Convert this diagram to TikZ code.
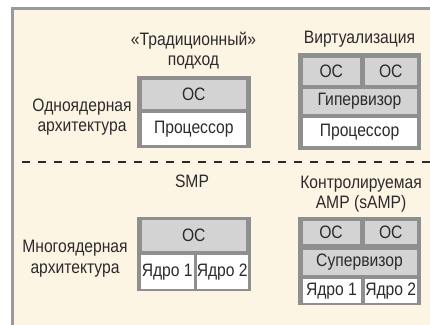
\documentclass[tikz,border=0pt]{standalone}
\usepackage{fontspec}
\setmainfont{Liberation Sans}[FakeStretch=0.87]

\definecolor{cream}{HTML}{FDF5E4}
\definecolor{framegray}{HTML}{9A9A9A}
\definecolor{blockgray}{HTML}{8F8F8F}
\definecolor{cellgray}{HTML}{D3D3D3}
\definecolor{ink}{HTML}{2B2B2B}

\tikzset{
  lbl/.style={inner sep=0pt, align=center, text=ink,
    font=\fontsize{18}{20.5}\selectfont},
  cell/.style={inner sep=0pt, fill=cellgray, text=ink,
    font=\fontsize{18}{20.5}\selectfont},
  hwcell/.style={cell, fill=white}
}

\begin{document}
\begin{tikzpicture}[x=1pt, y=-1pt]
  \useasboundingbox (0,0) rectangle (430,324);

  % Рамка
  \fill[cream] (12.5,8.5) rectangle (440,330);
  \draw[framegray, line width=3pt] (12.5,330) |- (440,8.5);

  % Разделитель
  \draw[ink, line width=2pt, dash pattern=on 8pt off 8pt] (22,161.5) -- (430,161.5);

  % Подписи
  \node[lbl] (single) at (82,117) {Одноядерная\\архитектура};
  \node[lbl] (multi) at (75,258.5) {Многоядерная\\архитектура};
  \node[lbl] (trad) at (193.5,50.5) {«Традиционный»\\подход};
  \node[lbl] (virt) at (359.5,39.5) {Виртуализация};
  \node[lbl] (smp) at (192,181) {SMP};
  \node[lbl] (samp) at (361,194) {Контролируемая\\AMP (sAMP)};

  % «Традиционный» подход
  \fill[blockgray] (137,75.5) rectangle (250.5,148);
  \node[cell, minimum width=104.5pt, minimum height=28.5pt] (tradOS) at (193.75,94.25) {ОС};
  \node[hwcell, minimum width=104.5pt, minimum height=31.5pt] (tradCPU) at (193.75,128.75) {Процессор};

  % Виртуализация
  \fill[blockgray] (298,53) rectangle (421,149.5);
  \node[cell, minimum width=57.5pt, minimum height=27.5pt] (virtOSa) at (331.25,71.25) {ОС};
  \node[cell, minimum width=51.5pt, minimum height=27.5pt] (virtOSb) at (390.75,71.25) {ОС};
  \node[cell, minimum width=114pt, minimum height=25pt] (virtHyp) at (359.5,101.5) {Гипервизор};
  \node[hwcell, minimum width=114pt, minimum height=27.5pt] (virtCPU) at (359.5,131.75) {Процессор};

  % SMP
  \fill[blockgray] (137,216.5) rectangle (250.5,291);
  \node[cell, minimum width=104.5pt, minimum height=30.5pt] (smpOS) at (193.75,235.25) {ОС};
  \node[hwcell, minimum width=52.5pt, minimum height=33.5pt] (smpCoreA) at (167.25,271.75) {Ядро 1};
  \node[hwcell, minimum width=47.5pt, minimum height=33.5pt] (smpCoreB) at (222.25,271.75) {Ядро 2};

  % sAMP
  \fill[blockgray] (298,216.5) rectangle (421,305);
  \node[cell, minimum width=57pt, minimum height=23.5pt] (sampOSa) at (331,232.25) {ОС};
  \node[cell, minimum width=51.5pt, minimum height=23.5pt] (sampOSb) at (390.75,232.25) {ОС};
  \node[cell, minimum width=114pt, minimum height=25pt] (sampSup) at (359.5,262) {Супервизор};
  \node[hwcell, minimum width=58pt, minimum height=23.5pt] (sampCoreA) at (331.5,290.75) {Ядро 1};
  \node[hwcell, minimum width=51.5pt, minimum height=23.5pt] (sampCoreB) at (390.75,290.75) {Ядро 2};
\end{tikzpicture}
\end{document}
